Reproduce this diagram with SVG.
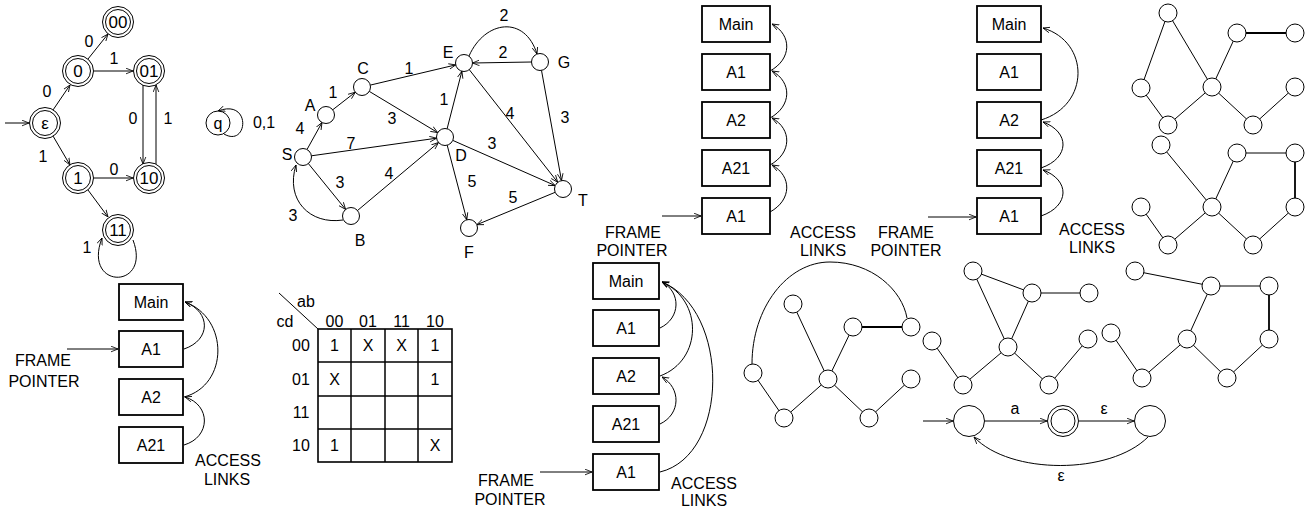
<svg xmlns="http://www.w3.org/2000/svg" width="1306" height="510" viewBox="0 0 1306 510">
<defs>
<marker id="ah" viewBox="0 0 10 10" refX="10" refY="5" markerWidth="7" markerHeight="7" orient="auto" markerUnits="userSpaceOnUse"><path d="M0,1 L10,5 L0,9" fill="none" stroke="#000" stroke-width="1.2"/></marker>
</defs>
<style>
text{font-family:"Liberation Sans",Arial,sans-serif;font-size:16px;fill:#000;text-anchor:middle}
.s15{font-size:16px}
.s17{font-size:17px}
.box{fill:#fff;stroke:#000;stroke-width:1.8}
.c{fill:#fff;stroke:#000;stroke-width:1}
.e{fill:none;stroke:#000;stroke-width:1;marker-end:url(#ah)}
.l{fill:none;stroke:#000;stroke-width:1}
.lt{fill:none;stroke:#000;stroke-width:1.8}
.g{stroke:#000;stroke-width:1.5}
</style>

<!-- ===== DFA top-left ===== -->
<g id="dfa-edges">
<line class="e" x1="5" y1="123" x2="29" y2="123"/>
<line class="e" x1="53" y1="110" x2="70" y2="85"/>
<line class="e" x1="88" y1="59" x2="108" y2="34"/>
<line class="e" x1="94" y1="71" x2="133" y2="71"/>
<line class="e" x1="53" y1="136" x2="70" y2="165"/>
<line class="e" x1="94" y1="178" x2="133" y2="178"/>
<line class="e" x1="88" y1="190" x2="108" y2="217"/>
<line class="e" x1="143" y1="85" x2="143" y2="164"/>
<line class="e" x1="156" y1="164" x2="156" y2="85"/>
<path class="e" d="M133 240 C152 290 82 290 102 238"/>
<text class="s15" x="89" y="47">0</text>
<text class="s15" x="114" y="64">1</text>
<text class="s15" x="47" y="97">0</text>
<text class="s15" x="133" y="124">0</text>
<text class="s15" x="168" y="124">1</text>
<text class="s15" x="43" y="162">1</text>
<text class="s15" x="114" y="175">0</text>
<text class="s15" x="87" y="253">1</text>
</g>
<g id="dfa-eps"><circle class="c" cx="45" cy="123" r="15.5"/><circle class="c" cx="45" cy="123" r="12.5"/><text class="s17" x="45" y="129">ε</text></g>
<g id="dfa-0"><circle class="c" cx="78" cy="71" r="15.5"/><circle class="c" cx="78" cy="71" r="12.5"/><text class="s17" x="78" y="77">0</text></g>
<g id="dfa-00"><circle class="c" cx="118" cy="22" r="15.5"/><circle class="c" cx="118" cy="22" r="12.5"/><text class="s17" x="118" y="28">00</text></g>
<g id="dfa-01"><circle class="c" cx="149" cy="71" r="15.5"/><circle class="c" cx="149" cy="71" r="12.5"/><text class="s17" x="149" y="77">01</text></g>
<g id="dfa-1"><circle class="c" cx="78" cy="178" r="15.5"/><circle class="c" cx="78" cy="178" r="12.5"/><text class="s17" x="78" y="184">1</text></g>
<g id="dfa-10"><circle class="c" cx="149" cy="178" r="15.5"/><circle class="c" cx="149" cy="178" r="12.5"/><text class="s17" x="149" y="184">10</text></g>
<g id="dfa-11"><circle class="c" cx="118" cy="230" r="15.5"/><circle class="c" cx="118" cy="230" r="12.5"/><text class="s17" x="118" y="236">11</text></g>

<!-- q node -->
<g id="q-node"><path class="e" d="M224 134 C248 148 252 98 218 111"/><circle class="c" cx="218" cy="123" r="12"/><text x="218" y="129">q</text><text x="264" y="128">0,1</text></g>

<!-- ===== weighted graph ===== -->
<g id="graph-edges">
<line class="e" x1="307" y1="149.5" x2="322" y2="122.5"/>
<line class="e" x1="332.7" y1="109.8" x2="355.3" y2="92.2"/>
<line class="e" x1="370.3" y1="85.1" x2="455.7" y2="64.9"/>
<line class="e" x1="369.3" y1="91.4" x2="437.7" y2="132.6"/>
<line class="e" x1="311.4" y1="155.8" x2="436.6" y2="138.2"/>
<line class="e" x1="308.4" y1="163.6" x2="345.6" y2="209.4"/>
<line class="e" x1="357.5" y1="210.5" x2="438.5" y2="142.5"/>
<line class="e" x1="447.1" y1="128.8" x2="461.9" y2="71.2"/>
<line class="e" x1="469.3" y1="69.7" x2="557.7" y2="182.3"/>
<line class="e" x1="452.8" y1="140.4" x2="555.2" y2="185.6"/>
<line class="e" x1="541.5" y1="70.4" x2="561.5" y2="180.6"/>
<line class="e" x1="531.5" y1="62" x2="472.5" y2="63"/>
<line class="e" x1="447.2" y1="145.2" x2="466.8" y2="219.8"/>
<line class="e" x1="555.2" y1="192.3" x2="476.8" y2="224.7"/>
<path class="e" d="M469 56 C485 20 525 15 537 54"/>
<path class="e" d="M343 220 C310 225 285 200 296 165"/>
<text x="300" y="134">4</text>
<text x="333" y="98">1</text>
<text x="409" y="74">1</text>
<text x="392" y="124">3</text>
<text x="351" y="149">7</text>
<text x="340" y="188">3</text>
<text x="389" y="179">4</text>
<text x="293" y="221">3</text>
<text x="444" y="105">1</text>
<text x="510" y="119">4</text>
<text x="492" y="149">3</text>
<text x="565" y="123">3</text>
<text x="503" y="58">2</text>
<text x="504" y="21">2</text>
<text x="472" y="187">5</text>
<text x="513" y="203">5</text>
</g>
<g id="n-S"><circle class="c" cx="303" cy="157" r="8.5"/><text x="287" y="160">S</text></g>
<g id="n-A"><circle class="c" cx="326" cy="115" r="8.5"/><text x="310" y="111">A</text></g>
<g id="n-C"><circle class="c" cx="362" cy="87" r="8.5"/><text x="363" y="74">C</text></g>
<g id="n-E"><circle class="c" cx="464" cy="63" r="8.5"/><text x="448" y="58">E</text></g>
<g id="n-G"><circle class="c" cx="540" cy="62" r="8.5"/><text x="564" y="68">G</text></g>
<g id="n-D"><circle class="c" cx="445" cy="137" r="8.5"/><text x="461" y="161">D</text></g>
<g id="n-B"><circle class="c" cx="351" cy="216" r="8.5"/><text x="360" y="246">B</text></g>
<g id="n-F"><circle class="c" cx="469" cy="228" r="8.5"/><text x="469" y="258">F</text></g>
<g id="n-T"><circle class="c" cx="563" cy="189" r="8.5"/><text x="583" y="206">T</text></g>

<!-- ===== stack bottom-left ===== -->
<g id="stack1-links">
<line class="e" x1="67" y1="349" x2="118" y2="349"/>
<path class="e" d="M184 349 C211 340 211 312 185 302"/>
<path class="e" d="M184 397 C229 385 229 318 185 302"/>
<path class="e" d="M184 445 C211 437 211 405 185 397"/>
</g>
<g id="s1-main"><rect class="box" x="119" y="284" width="64" height="36"/><text x="151" y="308">Main</text></g>
<g id="s1-a1"><rect class="box" x="119" y="331" width="64" height="36"/><text x="151" y="355">A1</text></g>
<g id="s1-a2"><rect class="box" x="119" y="379" width="64" height="36"/><text x="151" y="403">A2</text></g>
<g id="s1-a21"><rect class="box" x="119" y="427" width="64" height="36"/><text x="151" y="451">A21</text></g>
<g id="s1-labels"><text x="43" y="366">FRAME</text><text x="44" y="387">POINTER</text><text x="228" y="466">ACCESS</text><text x="227" y="485">LINKS</text></g>

<!-- ===== K-map ===== -->
<g id="kmap">
<rect x="318" y="329" width="134" height="133" fill="none" stroke="#000" stroke-width="1.6"/>
<line class="g" x1="351" y1="329" x2="351" y2="462"/>
<line class="g" x1="385" y1="329" x2="385" y2="462"/>
<line class="g" x1="418" y1="329" x2="418" y2="462"/>
<line class="g" x1="318" y1="362" x2="452" y2="362"/>
<line class="g" x1="318" y1="396" x2="452" y2="396"/>
<line class="g" x1="318" y1="429" x2="452" y2="429"/>
<line class="l" x1="279" y1="293" x2="318" y2="329"/>
<text x="306" y="307">ab</text>
<text x="285" y="327">cd</text>
<text x="334.5" y="327">00</text><text x="368" y="327">01</text><text x="401.5" y="327">11</text><text x="435" y="327">10</text>
<text x="301" y="351">00</text><text x="301" y="385">01</text><text x="301" y="418">11</text><text x="301" y="451">10</text>
<text x="334.5" y="351">1</text><text x="368" y="351">X</text><text x="401.5" y="351">X</text><text x="435" y="351">1</text>
<text x="334.5" y="385">X</text><text x="435" y="385">1</text>
<text x="334.5" y="451">1</text><text x="435" y="451">X</text>
</g>

<!-- ===== stack middle bottom ===== -->
<g id="stack2-links">
<line class="e" x1="540" y1="472" x2="592" y2="472"/>
<path class="e" d="M660 328 C681 318 681 292 662 282"/>
<path class="e" d="M660 376 C703 360 703 300 662 282"/>
<path class="e" d="M660 424 C681 414 681 388 662 377"/>
<path class="e" d="M660 472 C730 455 730 310 662 282"/>
</g>
<g id="s2-main"><rect class="box" x="593" y="263" width="66" height="36"/><text x="626" y="287">Main</text></g>
<g id="s2-a1"><rect class="box" x="593" y="310" width="66" height="36"/><text x="626" y="334">A1</text></g>
<g id="s2-a2"><rect class="box" x="593" y="358" width="66" height="36"/><text x="626" y="382">A2</text></g>
<g id="s2-a21"><rect class="box" x="593" y="406" width="66" height="36"/><text x="626" y="430">A21</text></g>
<g id="s2-a1b"><rect class="box" x="593" y="454" width="66" height="36"/><text x="626" y="478">A1</text></g>
<g id="s2-labels"><text x="506" y="486">FRAME</text><text x="510" y="505">POINTER</text><text x="704" y="489">ACCESS</text><text x="704" y="506">LINKS</text></g>

<!-- ===== stack top middle ===== -->
<g id="stack3-links">
<line class="e" x1="662" y1="216" x2="701" y2="216"/>
<path class="e" d="M770 212 C792 200 792 176 772 165"/>
<path class="e" d="M770 165 C792 153 792 129 772 118"/>
<path class="e" d="M770 118 C792 106 792 82 772 71"/>
<path class="e" d="M770 71 C792 59 792 35 772 24"/>
</g>
<g id="s3-main"><rect class="box" x="702" y="6" width="68" height="36"/><text x="736" y="30">Main</text></g>
<g id="s3-a1"><rect class="box" x="702" y="54" width="68" height="36"/><text x="736" y="78">A1</text></g>
<g id="s3-a2"><rect class="box" x="702" y="102" width="68" height="36"/><text x="736" y="126">A2</text></g>
<g id="s3-a21"><rect class="box" x="702" y="150" width="68" height="36"/><text x="736" y="174">A21</text></g>
<g id="s3-a1b"><rect class="box" x="702" y="198" width="68" height="36"/><text x="736" y="222">A1</text></g>
<g id="s3-labels"><text x="633" y="238">FRAME</text><text x="632" y="256">POINTER</text><text x="823" y="238">ACCESS</text><text x="823" y="256">LINKS</text></g>

<!-- ===== stack right ===== -->
<g id="stack4-links">
<line class="e" x1="928" y1="217" x2="976" y2="217"/>
<path class="e" d="M1041 120 C1090 105 1090 42 1043 28"/>
<path class="e" d="M1041 168 C1070 158 1070 132 1043 122"/>
<path class="e" d="M1041 216 C1070 206 1070 180 1043 170"/>
</g>
<g id="s4-main"><rect class="box" x="977" y="6" width="64" height="36"/><text x="1009" y="30">Main</text></g>
<g id="s4-a1"><rect class="box" x="977" y="54" width="64" height="36"/><text x="1009" y="78">A1</text></g>
<g id="s4-a2"><rect class="box" x="977" y="102" width="64" height="36"/><text x="1009" y="126">A2</text></g>
<g id="s4-a21"><rect class="box" x="977" y="150" width="64" height="36"/><text x="1009" y="174">A21</text></g>
<g id="s4-a1b"><rect class="box" x="977" y="198" width="64" height="36"/><text x="1009" y="222">A1</text></g>
<g id="s4-labels"><text x="906" y="238">FRAME</text><text x="906" y="256">POINTER</text><text x="1092" y="235">ACCESS</text><text x="1092" y="253">LINKS</text></g>

<!-- ===== graph top-right A ===== -->
<g id="gA-edges">
<line class="l" x1="1168" y1="13" x2="1141" y2="88"/>
<line class="l" x1="1168" y1="13" x2="1212" y2="87"/>
<line class="l" x1="1212" y1="87" x2="1237" y2="33"/>
<line class="lt" x1="1237" y1="33" x2="1295" y2="33"/>
<line class="l" x1="1141" y1="88" x2="1168" y2="125"/>
<line class="l" x1="1168" y1="125" x2="1212" y2="87"/>
<line class="l" x1="1212" y1="87" x2="1253" y2="125"/>
<line class="l" x1="1253" y1="125" x2="1295" y2="87"/>
</g>
<g id="gA-nodes">
<circle id="gA1" class="c" cx="1168" cy="13" r="9"/>
<circle id="gA2" class="c" cx="1237" cy="33" r="9"/>
<circle id="gA3" class="c" cx="1295" cy="33" r="9"/>
<circle id="gA4" class="c" cx="1141" cy="88" r="9"/>
<circle id="gA5" class="c" cx="1212" cy="87" r="9"/>
<circle id="gA6" class="c" cx="1295" cy="87" r="9"/>
<circle id="gA7" class="c" cx="1168" cy="125" r="9"/>
<circle id="gA8" class="c" cx="1253" cy="125" r="9"/>
</g>

<!-- ===== graph top-right B ===== -->
<g id="gB-edges">
<line class="l" x1="1161" y1="145" x2="1212" y2="207"/>
<line class="l" x1="1212" y1="207" x2="1237" y2="153"/>
<line class="l" x1="1237" y1="153" x2="1295" y2="153"/>
<line class="lt" x1="1295" y1="153" x2="1295" y2="207"/>
<line class="l" x1="1141" y1="207" x2="1168" y2="245"/>
<line class="l" x1="1168" y1="245" x2="1212" y2="207"/>
<line class="l" x1="1212" y1="207" x2="1253" y2="245"/>
<line class="l" x1="1253" y1="245" x2="1295" y2="207"/>
</g>
<g id="gB-nodes">
<circle id="gB1" class="c" cx="1161" cy="145" r="9"/>
<circle id="gB2" class="c" cx="1237" cy="153" r="9"/>
<circle id="gB3" class="c" cx="1295" cy="153" r="9"/>
<circle id="gB4" class="c" cx="1141" cy="207" r="9"/>
<circle id="gB5" class="c" cx="1212" cy="207" r="9"/>
<circle id="gB6" class="c" cx="1295" cy="207" r="9"/>
<circle id="gB7" class="c" cx="1168" cy="245" r="9"/>
<circle id="gB8" class="c" cx="1253" cy="245" r="9"/>
</g>

<!-- ===== tree 1 ===== -->
<g id="t1-edges">
<path class="l" d="M752 364 C752 308 787 262 830 262 C872 262 902 290 907 318"/>
<line class="l" x1="793" y1="304" x2="828" y2="379"/>
<line class="l" x1="853" y1="327" x2="828" y2="379"/>
<line class="lt" x1="853" y1="327" x2="911" y2="327"/>
<line class="l" x1="753" y1="373" x2="784" y2="418"/>
<line class="l" x1="784" y1="418" x2="828" y2="379"/>
<line class="l" x1="828" y1="379" x2="869" y2="418"/>
<line class="l" x1="869" y1="418" x2="911" y2="379"/>
</g>
<g id="t1-nodes">
<circle id="t1a" class="c" cx="793" cy="304" r="9"/>
<circle id="t1b" class="c" cx="853" cy="327" r="9"/>
<circle id="t1c" class="c" cx="911" cy="327" r="9"/>
<circle id="t1d" class="c" cx="753" cy="373" r="9"/>
<circle id="t1e" class="c" cx="828" cy="379" r="9"/>
<circle id="t1f" class="c" cx="911" cy="379" r="9"/>
<circle id="t1g" class="c" cx="784" cy="418" r="9"/>
<circle id="t1h" class="c" cx="869" cy="418" r="9"/>
</g>

<!-- ===== tree 2 ===== -->
<g id="t2-edges">
<line class="l" x1="973" y1="271" x2="1032" y2="293"/>
<line class="l" x1="973" y1="271" x2="1008" y2="347"/>
<line class="l" x1="1032" y1="293" x2="1008" y2="347"/>
<line class="l" x1="1032" y1="293" x2="1089" y2="293"/>
<line class="l" x1="932" y1="341" x2="963" y2="385"/>
<line class="l" x1="963" y1="385" x2="1008" y2="347"/>
<line class="l" x1="1008" y1="347" x2="1049" y2="385"/>
<line class="l" x1="1049" y1="385" x2="1088" y2="339"/>
</g>
<g id="t2-nodes">
<circle id="t2p" class="c" cx="973" cy="271" r="9"/>
<circle id="t2q" class="c" cx="1032" cy="293" r="9"/>
<circle id="t2r" class="c" cx="1089" cy="293" r="9"/>
<circle id="t2s" class="c" cx="932" cy="341" r="9"/>
<circle id="t2t" class="c" cx="1008" cy="347" r="9"/>
<circle id="t2u" class="c" cx="1088" cy="339" r="9"/>
<circle id="t2v" class="c" cx="963" cy="385" r="9"/>
<circle id="t2w" class="c" cx="1049" cy="385" r="9"/>
</g>

<!-- ===== tree 3 ===== -->
<g id="t3-edges">
<line class="l" x1="1135" y1="271" x2="1211" y2="286"/>
<line class="l" x1="1211" y1="286" x2="1269" y2="286"/>
<line class="lt" x1="1269" y1="286" x2="1269" y2="339"/>
<line class="l" x1="1211" y1="286" x2="1187" y2="339"/>
<line class="l" x1="1111" y1="333" x2="1142" y2="378"/>
<line class="l" x1="1142" y1="378" x2="1187" y2="339"/>
<line class="l" x1="1187" y1="339" x2="1227" y2="378"/>
<line class="l" x1="1227" y1="378" x2="1269" y2="339"/>
</g>
<g id="t3-nodes">
<circle id="t3a" class="c" cx="1135" cy="271" r="9"/>
<circle id="t3b" class="c" cx="1211" cy="286" r="9"/>
<circle id="t3c" class="c" cx="1269" cy="286" r="9"/>
<circle id="t3d" class="c" cx="1111" cy="333" r="9"/>
<circle id="t3e" class="c" cx="1187" cy="339" r="9"/>
<circle id="t3f" class="c" cx="1269" cy="339" r="9"/>
<circle id="t3g" class="c" cx="1142" cy="378" r="9"/>
<circle id="t3h" class="c" cx="1227" cy="378" r="9"/>
</g>

<!-- ===== NFA bottom-right ===== -->
<g id="nfa-edges">
<line class="e" x1="923" y1="421" x2="953" y2="421"/>
<line class="e" x1="985" y1="421" x2="1047" y2="421"/>
<line class="e" x1="1079" y1="421" x2="1134" y2="421"/>
<path class="e" d="M1148 437 C1110 475 1010 475 974 437"/>
<text x="1015" y="414">a</text>
<text x="1104" y="414">ε</text>
<text x="1061" y="481">ε</text>
</g>
<g id="nfa-s0"><circle class="c" cx="969" cy="421" r="15.5"/></g>
<g id="nfa-s1"><circle class="c" cx="1063" cy="421" r="15.5"/><circle class="c" cx="1063" cy="421" r="12"/></g>
<g id="nfa-s2"><circle class="c" cx="1150" cy="421" r="15.5"/></g>
</svg>
